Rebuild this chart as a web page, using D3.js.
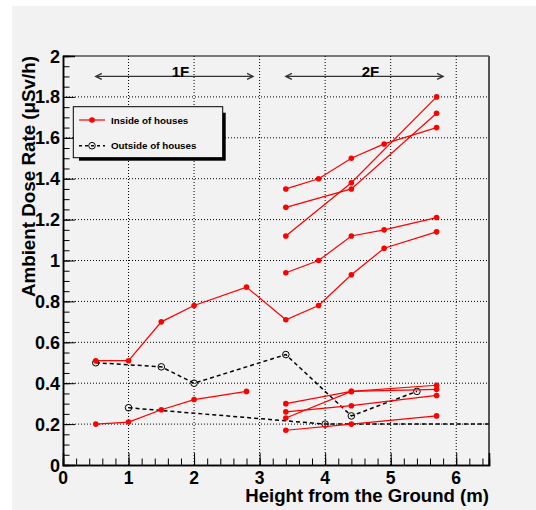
<!DOCTYPE html>
<html>
<head>
<meta charset="utf-8">
<script src="https://cdn.jsdelivr.net/npm/d3@7"></script>
<style>
  body { margin: 0; background: #fff; }
  text { font-family: "Liberation Sans", Arial, sans-serif; font-weight: bold; }
</style>
</head>
<body>
<div id="chart"></div>
<script>
// heights (m) and dose rates (uSv/h)
var xFull = [0.5, 1.0, 1.5, 2.0, 2.8, 3.4, 3.9, 4.4, 4.9, 5.7]
var x1F = [0.5, 1.0, 1.5, 2.0, 2.8]
var x2F5 = [3.4, 3.9, 4.4, 4.9, 5.7]
var x2F3 = [3.4, 4.4, 5.7]

var in1 = [0.51, 0.51, 0.70, 0.78, 0.87, 0.71, 0.78, 0.93, 1.06, 1.14]
var in2 = [0.20, 0.21, 0.27, 0.32, 0.36]
var in3 = [0.94, 1.00, 1.12, 1.15, 1.21]
var in4 = [1.35, 1.40, 1.50, 1.57, 1.65]
var in5 = [1.12, 1.38, 1.80]
var in6 = [1.26, 1.35, 1.72]
var in7 = [0.30, 0.36, 0.39]
var in8 = [0.23, 0.36, 0.37]
var in9 = [0.26, 0.29, 0.34]
var in10 = [0.17, 0.20, 0.24]

var outAX = [0.5, 1.5, 2.0, 3.4, 4.4, 5.4]
var outA = [0.50, 0.48, 0.40, 0.54, 0.24, 0.36]
var outBX = [1.0, 4.0, 7.0]
var outB = [0.28, 0.20, 0.20]

var floorLabels = ['1F', '2F']
var floorFrom = [0.5, 3.4]
var floorTo = [2.9, 5.8]
var floorLevel = 1.9

var xTicks = [0, 1, 2, 3, 4, 5, 6]
var yTicks = [0, 0.2, 0.4, 0.6, 0.8, 1, 1.2, 1.4, 1.6, 1.8, 2]

var legendLabels = ['Inside of houses', 'Outside of houses']

var width = 536, height = 510
var pl = 63, pr = 489, pt = 56, pb = 465

var x = d3.scaleLinear().domain([0, 6.5]).range([pl, pr])
var y = d3.scaleLinear().domain([0, 2]).range([pb, pt])

var svg = d3.select('#chart').append('svg')
  .attr('width', width)
  .attr('height', height)

svg.append('rect')
  .attr('x', 12).attr('y', 6)
  .attr('width', width - 12).attr('height', height - 6)
  .attr('fill', '#f2f2f2')

svg.append('defs').append('clipPath').attr('id', 'plot')
  .append('rect')
  .attr('x', pl).attr('y', pt)
  .attr('width', pr - pl).attr('height', pb - pt)

// dotted grid
var grid = svg.append('g').attr('stroke', '#000').attr('stroke-width', 1).attr('stroke-dasharray', '1,2')
grid.selectAll('.gx').data(xTicks.slice(1)).enter().append('line')
  .attr('x1', function(d) { return x(d) }).attr('x2', function(d) { return x(d) })
  .attr('y1', pb).attr('y2', pt)
grid.selectAll('.gy').data(yTicks.slice(1, -1)).enter().append('line')
  .attr('x1', pl).attr('x2', pr)
  .attr('y1', function(d) { return y(d) }).attr('y2', function(d) { return y(d) })

// frame
svg.append('line').attr('x1', pl).attr('x2', pr).attr('y1', pt).attr('y2', pt)
  .attr('stroke', '#000')
svg.append('line').attr('x1', pr).attr('x2', pr).attr('y1', pt).attr('y2', pb)
  .attr('stroke', '#555').attr('stroke-width', 2)

// axes, ticks pointing into the frame
var xAxis = d3.axisTop(x).tickValues(d3.range(0, 6.51, 0.2)).tickSize(6.5).tickFormat('')
svg.append('g').attr('transform', 'translate(0,' + pb + ')').call(xAxis)
var xMajor = d3.axisTop(x).tickValues(xTicks).tickSize(12).tickFormat('')
svg.append('g').attr('transform', 'translate(0,' + pb + ')').call(xMajor)
var yAxis = d3.axisRight(y).tickValues(d3.range(0, 2.001, 0.05)).tickSize(6.5).tickFormat('')
svg.append('g').attr('transform', 'translate(' + pl + ',0)').call(yAxis)
var yMajor = d3.axisRight(y).tickValues(yTicks).tickSize(12).tickFormat('')
svg.append('g').attr('transform', 'translate(' + pl + ',0)').call(yMajor)
svg.selectAll('.domain').attr('stroke', '#000').attr('stroke-width', 1.5)
svg.selectAll('.tick line').attr('stroke', '#000')

svg.append('g').selectAll('text').data(xTicks).enter().append('text')
  .attr('x', function(d) { return x(d) })
  .attr('y', 484)
  .attr('text-anchor', 'middle')
  .attr('font-size', 17.5)
  .text(function(d) { return d })
svg.append('g').selectAll('text').data(yTicks).enter().append('text')
  .attr('x', 60)
  .attr('y', function(d) { return y(d) + 6.5 })
  .attr('text-anchor', 'end')
  .attr('font-size', 18)
  .text(function(d) { return d })

svg.append('text')
  .attr('x', pr).attr('y', 502)
  .attr('text-anchor', 'end')
  .attr('font-size', 18.6)
  .text('Height from the Ground (m)')
svg.append('text')
  .attr('transform', 'translate(35,' + pt + ') rotate(-90)')
  .attr('text-anchor', 'end')
  .attr('font-size', 18.8)
  .text('Ambient Dose Rate (\u03bcSv/h)')

// floor arrows
floorLabels.forEach(function(lab, i) {
  var g = svg.append('g').attr('stroke', '#333').attr('stroke-width', 1.3).attr('fill', 'none')
  var x0 = x(floorFrom[i]), x1 = x(floorTo[i]), yy = y(floorLevel)
  g.append('line').attr('x1', x0).attr('x2', x1).attr('y1', yy).attr('y2', yy)
  g.append('path').attr('d', 'M' + (x0 + 6) + ',' + (yy - 3) + 'L' + x0 + ',' + yy + 'L' + (x0 + 6) + ',' + (yy + 3))
  g.append('path').attr('d', 'M' + (x1 - 6) + ',' + (yy - 3) + 'L' + x1 + ',' + yy + 'L' + (x1 - 6) + ',' + (yy + 3))
  svg.append('text')
    .attr('x', (x0 + x1) / 2 + 6).attr('y', yy + 1)
    .attr('text-anchor', 'middle')
    .attr('font-size', 15)
    .text(lab)
})

var line = d3.line()
  .x(function(d) { return x(d[0]) })
  .y(function(d) { return y(d[1]) })

var inside = [
  d3.zip(xFull, in1), d3.zip(x1F, in2), d3.zip(x2F5, in3), d3.zip(x2F5, in4),
  d3.zip(x2F3, in5), d3.zip(x2F3, in6), d3.zip(x2F3, in7), d3.zip(x2F3, in8),
  d3.zip(x2F3, in9), d3.zip(x2F3, in10)
]
var outside = [d3.zip(outAX, outA), d3.zip(outBX, outB)]

var plot = svg.append('g').attr('clip-path', 'url(#plot)')

outside.forEach(function(s) {
  plot.append('path').datum(s)
    .attr('d', line)
    .attr('fill', 'none')
    .attr('stroke', '#000')
    .attr('stroke-width', 1.5)
    .attr('stroke-dasharray', '4,3')
  plot.selectAll(null).data(s).enter().append('circle')
    .attr('cx', function(d) { return x(d[0]) })
    .attr('cy', function(d) { return y(d[1]) })
    .attr('r', 3.3)
    .attr('fill', 'none')
    .attr('stroke', '#000')
})

inside.forEach(function(s) {
  plot.append('path').datum(s)
    .attr('d', line)
    .attr('fill', 'none')
    .attr('stroke', '#f00')
    .attr('stroke-width', 1.2)
  plot.selectAll(null).data(s).enter().append('circle')
    .attr('cx', function(d) { return x(d[0]) })
    .attr('cy', function(d) { return y(d[1]) })
    .attr('r', 2.8)
    .attr('fill', '#f00')
})

// legend
var lg = svg.append('g')
lg.append('rect').attr('x', 79).attr('y', 112.7).attr('width', 146.7).attr('height', 48).attr('fill', '#000')
lg.append('rect').attr('x', 73.3).attr('y', 106.7).attr('width', 149.4).attr('height', 51)
  .attr('fill', '#f2f2f2').attr('stroke', '#000')
lg.append('line').attr('x1', 79).attr('x2', 105).attr('y1', 120).attr('y2', 120)
  .attr('stroke', '#f00').attr('stroke-width', 1.2)
lg.append('circle').attr('cx', 92).attr('cy', 120).attr('r', 2.8).attr('fill', '#f00')
lg.append('line').attr('x1', 79).attr('x2', 105).attr('y1', 145.7).attr('y2', 145.7)
  .attr('stroke', '#000').attr('stroke-width', 1.5).attr('stroke-dasharray', '3,3')
lg.append('circle').attr('cx', 92).attr('cy', 145.7).attr('r', 3.3).attr('fill', 'none').attr('stroke', '#000')
lg.selectAll('text').data(legendLabels).enter().append('text')
  .attr('x', 111)
  .attr('y', function(d, i) { return i ? 149.2 : 123.6 })
  .attr('font-size', 9.8)
  .text(function(d) { return d })
</script>
</body>
</html>
